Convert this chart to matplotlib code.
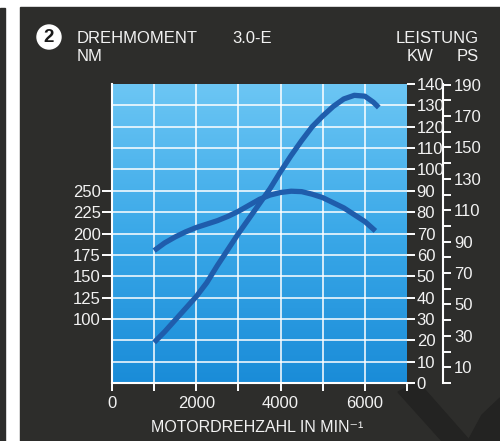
import numpy as np
import matplotlib
matplotlib.use("Agg")
import matplotlib.pyplot as plt
from matplotlib.patches import Rectangle, Ellipse, Polygon
from matplotlib.colors import LinearSegmentedColormap

# Data
rpm_torque = [1000, 1250, 1500, 1750, 2000, 2250, 2500, 2750, 3000, 3250, 3500,
              3750, 4000, 4250, 4500, 4750, 5000, 5250, 5500, 5750, 6000, 6250]
torque_nm = [180, 189, 196, 202, 207, 211, 215, 220, 226, 233, 240,
             245, 248, 249.5, 249, 246, 242, 236, 230, 222, 214, 203]

rpm_power = [1000, 1250, 1500, 1750, 2000, 2250, 2500, 2750, 3000, 3250, 3500, 3750,
             4000, 4250, 4500, 4750, 5000, 5250, 5500, 5750, 6000, 6200, 6330]
power_kw = [19, 24, 29.5, 35, 40.5, 47, 55, 62.5, 70, 77, 84, 91,
            99, 106.5, 113.5, 120, 125, 129.5, 133, 134.7, 134.3, 131.5, 129]

x_ticks = [0, 2000, 4000, 6000]
kw_ticks = list(range(0, 141, 10))
nm_ticks = [100, 125, 150, 175, 200, 225, 250]
ps_ticks = list(range(10, 191, 20))

W, H = 500, 441
def fx(px):
    return px / W
def fy(py):
    return 1 - py / H

fig = plt.figure(figsize=(5.0, 4.41), dpi=100, facecolor="white")
dark = "#2d2d2b"
txt = "#f2f2f2"
font = ["Liberation Sans", "DejaVu Sans"]

# background panels
fig.add_artist(Rectangle((0, 0), fx(5), fy(8), transform=fig.transFigure, color=dark, zorder=0))
fig.add_artist(Rectangle((fx(20), 0), fx(480), fy(7), transform=fig.transFigure, color=dark, zorder=0))
# dark diagonal shape bottom right
fig.add_artist(Polygon([(fx(398), fy(392)), (fx(418), fy(382)), (fx(470), fy(441)), (fx(442), fy(441))],
                       closed=True, transform=fig.transFigure, color="#232322", zorder=0))
fig.add_artist(Polygon([(fx(500), fy(398)), (fx(500), fy(441)), (fx(468), fy(441)), (fx(482), fy(415))],
                       closed=True, transform=fig.transFigure, color="#232322", zorder=0))

ax = fig.add_axes([fx(112), fy(383), fx(407 - 112), (383 - 84) / H])
ax.set_facecolor("none")
ax.set_xlim(0, 7000)
ax.set_ylim(0, 140)

cmap = LinearSegmentedColormap.from_list("bg", ["#1a8cd8", "#3aa8e8", "#6cc6f4"])
grad = np.linspace(0, 1, 256)[:, None]
ax.imshow(grad, extent=[0, 7000, 0, 140], origin="lower", aspect="auto", cmap=cmap, zorder=0)

for v in range(10, 140, 10):
    ax.axhline(v, color="white", lw=1.1, zorder=1)
for v in range(1000, 7000, 1000):
    ax.axvline(v, color="white", lw=1.1, zorder=1)

curve_col = "#1f5dac"
ax.plot(rpm_torque, [(t - 25) / 2.5 for t in torque_nm], color=curve_col, lw=3.8,
        solid_capstyle="butt", solid_joinstyle="round", zorder=3)
ax.plot(rpm_power, power_kw, color=curve_col, lw=3.8,
        solid_capstyle="butt", solid_joinstyle="round", zorder=3)

for s in ["top", "right"]:
    ax.spines[s].set_visible(False)
for s in ["left", "bottom"]:
    ax.spines[s].set_color("white")
    ax.spines[s].set_linewidth(1.5)

ax.set_xticks(x_ticks)
ax.set_xticklabels([str(v) for v in x_ticks])
ax.set_xticks([1000, 3000, 5000, 7000], minor=True)
ax.tick_params(axis="x", which="both", colors="white", direction="out", length=6, width=1.4,
               labelsize=12, labelcolor=txt, pad=3)

ax.yaxis.tick_right()
ax.set_yticks(kw_ticks)
ax.tick_params(axis="y", colors="white", direction="out", length=6, width=1.4,
               labelsize=12, labelcolor=txt, pad=1)

nm_ax = ax.secondary_yaxis("left", functions=(lambda k: 2.5 * k + 25, lambda n: (n - 25) / 2.5))
nm_ax.set_yticks(nm_ticks)
nm_ax.spines["left"].set_visible(False)
nm_ax.tick_params(colors="white", direction="out", length=7, width=1.4,
                  labelsize=12, labelcolor=txt, pad=1)

ps_ax = ax.secondary_yaxis((443 - 112) / (407 - 112), functions=(lambda k: k * 1.36, lambda p: p / 1.36))
ps_ax.set_yticks(ps_ticks)
ps_ax.set_yticks(list(range(0, 190, 20)), minor=True)
ps_ax.spines["right"].set_color("white")
ps_ax.spines["right"].set_linewidth(1.5)
ps_ax.spines["left"].set_visible(False)
ps_ax.tick_params(which="both", colors="white", direction="out", length=6, width=1.4,
                  labelsize=12, labelcolor=txt, pad=2)

for a in [ax, nm_ax, ps_ax]:
    for lab in a.get_xticklabels() + a.get_yticklabels():
        lab.set_fontfamily(font)

# header texts
fig.add_artist(Ellipse((fx(49), fy(37)), 24 / W, 24 / H, transform=fig.transFigure, color="white", zorder=5))
fig.text(fx(49), fy(37.5), "2", ha="center", va="center", fontsize=13.5, fontweight="bold",
         color="#1a1a1a", family=font, zorder=6)
fig.text(fx(77), fy(43), "DREHMOMENT", ha="left", va="baseline", fontsize=12, color=txt, family=font)
fig.text(fx(77), fy(61), "NM", ha="left", va="baseline", fontsize=12, color=txt, family=font)
fig.text(fx(232), fy(43), "3.0-E", ha="left", va="baseline", fontsize=12, color=txt, family=font)
fig.text(fx(479), fy(43), "LEISTUNG", ha="right", va="baseline", fontsize=12, color=txt, family=font)
fig.text(fx(407), fy(61), "KW", ha="left", va="baseline", fontsize=12, color=txt, family=font)
fig.text(fx(479), fy(61), "PS", ha="right", va="baseline", fontsize=12, color=txt, family=font)
fig.text(fx(257), fy(432), "MOTORDREHZAHL IN MIN\u207b\u00b9", ha="center", va="baseline",
         fontsize=11.5, color=txt, family=font)

fig.savefig("out.png", dpi=100, facecolor="white")
